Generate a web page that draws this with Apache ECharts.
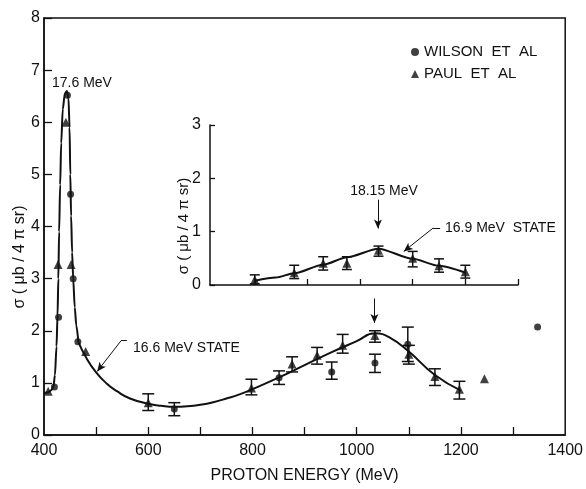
<!DOCTYPE html>
<html><head><meta charset="utf-8">
<script src="https://cdn.jsdelivr.net/npm/echarts@6/dist/echarts.min.js"></script>
<style>html,body{margin:0;padding:0;background:#fff}#c{width:586px;height:489px}</style>
</head><body><div id="c"></div>
<script>
// ---- data ----
const mainXTickValues = [500, 600, 700, 800, 900, 1000, 1100, 1200, 1300];
const mainXLabelValues = [400, 600, 800, 1000, 1200, 1400];
const mainYTickValues = [0, 1, 2, 3, 4, 5, 6, 7, 8];
const insetXTickValues = [800, 900, 1000, 1100, 1200, 1300];
const insetYTickValues = [0, 1, 2, 3];

const wilsonPoints = [[420,0.92],[428,2.26],[445,6.52],[451,4.62],[456,3.0],[465,1.79],[650,0.5],[851,1.1],[952,1.21],[1035,1.38],[1098,1.74],[1347,2.07]];
const wilsonErrors = [[650,0.37,0.62],[851,0.97,1.23],[952,1.07,1.40],[1035,1.2,1.55],[1098,1.41,2.07]];
const paulPoints = [[408,0.84],[427,3.27],[442,6.0],[452,3.27],[480,1.6],[600,0.62],[798,0.9],[876,1.36],[924,1.53],[973,1.72],[1035,1.91],[1100,1.55],[1150,1.12],[1197,0.88],[1245,1.08]];
const paulErrors = [[600,0.47,0.79],[798,0.77,1.07],[876,1.21,1.5],[924,1.36,1.68],[973,1.57,1.93],[1035,1.78,2.0],[1100,1.36,1.72],[1150,0.95,1.27],[1197,0.69,1.03]];
const peakCurve = [[400,0.80],[408,0.82],[414,0.86],[418,0.92],[421,1.15],[424,1.7],[426,2.3],[427.5,3.0],[429,3.9],[431,4.8],[433,5.6],[436,6.25],[440,6.55],[444,6.6],[447,6.45],[449,5.9],[450.5,5.0],[452,4.2],[454,3.5],[456,3.0],[459,2.45],[462,2.1],[466,1.78]];
const tailCurve = [[466,1.78],[480,1.5],[500,1.2],[520,0.99],[540,0.84],[565,0.7],[600,0.6],[625,0.56],[650,0.54],[675,0.55],[700,0.58],[725,0.63],[750,0.7],[775,0.78],[800,0.88],[850,1.1],[900,1.34],[950,1.58],[1000,1.8],[1035,1.95],[1065,1.86],[1100,1.6],[1150,1.15],[1200,0.85]];

const insetPoints = [[800,0.1],[875,0.23],[930,0.41],[975,0.41],[1035,0.65],[1100,0.5],[1150,0.36],[1200,0.25]];
const insetErrors = [[800,0.02,0.19],[875,0.12,0.37],[930,0.28,0.53],[975,0.29,0.53],[1035,0.54,0.73],[1100,0.34,0.63],[1150,0.24,0.49],[1200,0.13,0.37]];
const insetCurve = [[800,0.08],[840,0.14],[875,0.22],[930,0.38],[975,0.52],[1035,0.68],[1100,0.49],[1150,0.36],[1200,0.23]];

const seriesNames = ['WILSON  ET  AL', 'PAUL  ET  AL'];
// -------------------------------------

const INK = '#111';
const FONT = '"Liberation Sans", Arial, Helvetica, sans-serif';

function errRender(capHalf) {
  return function (params, api) {
    const x = api.value(0), lo = api.value(1), hi = api.value(2);
    const a = api.coord([x, lo]), b = api.coord([x, hi]);
    const st = { stroke: INK, lineWidth: 1.5 };
    return { type: 'group', children: [
      { type: 'line', shape: { x1: a[0], y1: a[1], x2: b[0], y2: b[1] }, style: st },
      { type: 'line', shape: { x1: a[0] - capHalf, y1: a[1], x2: a[0] + capHalf, y2: a[1] }, style: st },
      { type: 'line', shape: { x1: b[0] - capHalf, y1: b[1], x2: b[0] + capHalf, y2: b[1] }, style: st }
    ]};
  };
}

function arrowLine(p1, p2, withArrow) {
  return [
    { coord: p1, symbol: 'none' },
    { coord: p2, symbol: withArrow ? 'arrow' : 'none', symbolSize: [6, 9] }
  ];
}

const markLineBase = {
  silent: true, animation: false,
  label: { show: false },
  lineStyle: { color: INK, width: 1, type: 'solid' },
  emphasis: { disabled: true }
};
const plainLabel = v => String(v);

const chart = echarts.init(document.getElementById('c'), null, { renderer: 'canvas' });
chart.setOption({
  animation: false,
  backgroundColor: '#fff',
  textStyle: { fontFamily: FONT },
  grid: [
    { left: 44, right: 15, top: 18, bottom: 44, show: true, borderColor: INK, borderWidth: 1.5, backgroundColor: 'transparent' },
    { left: 210, right: 68, top: 125, bottom: 204 }
  ],
  legend: {
    data: [{ name: seriesNames[0], icon: 'circle' }, { name: seriesNames[1], icon: 'triangle' }],
    orient: 'vertical', left: 406, top: 39,
    itemWidth: 8, itemHeight: 8, itemGap: 6,
    selectedMode: false,
    textStyle: { fontSize: 15, color: INK, fontFamily: FONT, lineHeight: 16 }
  },
  xAxis: [
    { type: 'value', gridIndex: 0, min: 400, max: 1400, interval: 100,
      name: 'PROTON ENERGY (MeV)', nameLocation: 'middle', nameGap: 33,
      nameTextStyle: { fontSize: 16, color: INK, fontFamily: FONT },
      axisLine: { show: true, lineStyle: { color: INK, width: 1.5 } },
      axisTick: { show: true, inside: true, length: 8, lineStyle: { color: INK, width: 1.3 }, customValues: mainXTickValues },
      axisLabel: { fontSize: 16, color: INK, margin: 8, customValues: mainXLabelValues, formatter: plainLabel },
      splitLine: { show: false } },
    { type: 'value', gridIndex: 1, min: 715, max: 1300,
      axisLine: { show: true, lineStyle: { color: INK, width: 1.5 } },
      axisTick: { show: true, inside: true, length: 6, lineStyle: { color: INK, width: 1.3 }, customValues: insetXTickValues },
      axisLabel: { show: false },
      splitLine: { show: false } }
  ],
  yAxis: [
    { type: 'value', gridIndex: 0, min: 0, max: 8, interval: 1,
      axisLine: { show: true, lineStyle: { color: INK, width: 1.5 } },
      axisTick: { show: true, inside: true, length: 8, lineStyle: { color: INK, width: 1.3 }, customValues: mainYTickValues },
      axisLabel: { fontSize: 16, color: INK, margin: 4, customValues: mainYTickValues, formatter: plainLabel },
      splitLine: { show: false } },
    { type: 'value', gridIndex: 1, min: 0, max: 3, interval: 1,
      axisLine: { show: true, lineStyle: { color: INK, width: 1.5 } },
      axisTick: { show: true, inside: true, length: 5, lineStyle: { color: INK, width: 1.3 }, customValues: insetYTickValues },
      axisLabel: { fontSize: 16, color: INK, margin: 9, customValues: insetYTickValues, formatter: plainLabel },
      splitLine: { show: false } }
  ],
  series: [
    { type: 'line', name: 'peak curve', xAxisIndex: 0, yAxisIndex: 0, data: peakCurve,
      smooth: 0.3, smoothMonotone: 'x', showSymbol: false, symbol: 'none',
      lineStyle: { color: INK, width: 2 }, silent: true, z: 3 },
    { type: 'line', name: 'tail curve', xAxisIndex: 0, yAxisIndex: 0, data: tailCurve,
      smooth: 0.5, showSymbol: false, symbol: 'none',
      lineStyle: { color: INK, width: 2 }, silent: true, z: 3,
      markLine: Object.assign({}, markLineBase, { data: [
        arrowLine([1034, 2.62], [1034, 2.15], true),
        arrowLine([559, 1.81], [548, 1.81], false),
        arrowLine([548, 1.81], [502, 1.22], true)
      ]}) },
    { type: 'custom', name: 'wilson err', xAxisIndex: 0, yAxisIndex: 0, data: wilsonErrors,
      renderItem: errRender(6), encode: { x: 0, y: [1, 2] }, silent: true, z: 4 },
    { type: 'custom', name: 'paul err', xAxisIndex: 0, yAxisIndex: 0, data: paulErrors,
      renderItem: errRender(6), encode: { x: 0, y: [1, 2] }, silent: true, z: 4 },
    { type: 'scatter', name: seriesNames[0], xAxisIndex: 0, yAxisIndex: 0, data: wilsonPoints,
      symbol: 'circle', symbolSize: 7, itemStyle: { color: INK }, z: 5 },
    { type: 'scatter', name: seriesNames[1], xAxisIndex: 0, yAxisIndex: 0, data: paulPoints,
      symbol: 'triangle', symbolSize: 9, itemStyle: { color: INK }, z: 5 },

    { type: 'line', name: 'inset curve', xAxisIndex: 1, yAxisIndex: 1, data: insetCurve,
      smooth: 0.25, smoothMonotone: 'x', showSymbol: false, symbol: 'none',
      lineStyle: { color: INK, width: 2 }, silent: true, z: 3,
      markLine: Object.assign({}, markLineBase, { data: [
        arrowLine([1034, 1.6], [1034, 1.06], true),
        arrowLine([1152, 1.07], [1139, 1.07], false),
        arrowLine([1139, 1.07], [1083, 0.63], true)
      ]}) },
    { type: 'custom', name: 'inset err', xAxisIndex: 1, yAxisIndex: 1, data: insetErrors,
      renderItem: errRender(5), encode: { x: 0, y: [1, 2] }, silent: true, z: 4 },
    { type: 'scatter', name: seriesNames[1], xAxisIndex: 1, yAxisIndex: 1, data: insetPoints,
      symbol: 'triangle', symbolSize: 9, itemStyle: { color: INK }, z: 5 }
  ],
  graphic: [
    { type: 'text', x: 20, y: 257, rotation: Math.PI / 2, silent: true,
      style: { text: 'σ ( μb / 4 π sr)', fontSize: 16, fill: INK, fontFamily: FONT, textAlign: 'center', textVerticalAlign: 'middle' } },
    { type: 'text', x: 184, y: 226, rotation: Math.PI / 2, silent: true,
      style: { text: 'σ ( μb / 4 π sr)', fontSize: 15, fill: INK, fontFamily: FONT, textAlign: 'center', textVerticalAlign: 'middle' } },
    { type: 'text', x: 82, y: 83, silent: true,
      style: { text: '17.6 MeV', fontSize: 14, fill: INK, fontFamily: FONT, textAlign: 'center', textVerticalAlign: 'middle' } },
    { type: 'text', x: 133, y: 348, silent: true,
      style: { text: '16.6 MeV STATE', fontSize: 14, fill: INK, fontFamily: FONT, textAlign: 'left', textVerticalAlign: 'middle' } },
    { type: 'text', x: 384, y: 191, silent: true,
      style: { text: '18.15 MeV', fontSize: 14, fill: INK, fontFamily: FONT, textAlign: 'center', textVerticalAlign: 'middle' } },
    { type: 'text', x: 445, y: 228, silent: true,
      style: { text: '16.9 MeV  STATE', fontSize: 14, fill: INK, fontFamily: FONT, textAlign: 'left', textVerticalAlign: 'middle' } }
  ]
});
</script>
</body></html>
